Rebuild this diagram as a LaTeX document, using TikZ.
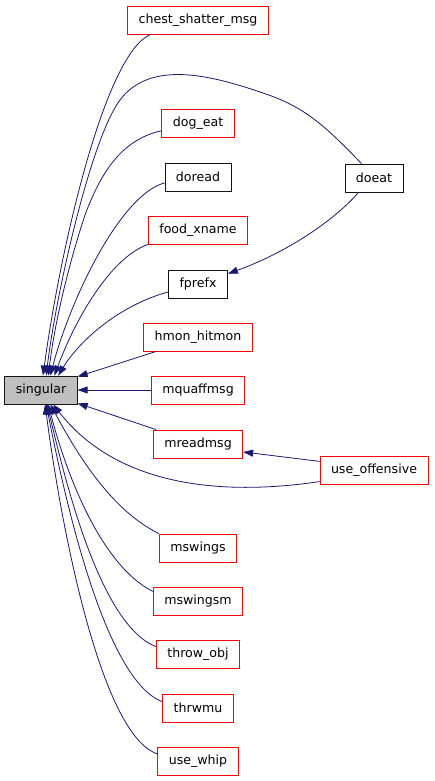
\documentclass[tikz,border=0pt]{standalone}
\usepackage{fontspec}
\setmainfont{DejaVu Sans}
\usetikzlibrary{arrows.meta}
\definecolor{edgenavy}{RGB}{25,25,112}
\definecolor{boxred}{RGB}{255,0,0}
\definecolor{boxgrey}{RGB}{191,191,191}
\definecolor{boxdark}{RGB}{20,20,20}

\begin{document}
\begin{tikzpicture}[x=1pt,y=-1pt,
  fn/.style={draw=boxred,line width=0.8pt,fill=white,font=\fontsize{12.6}{14}\selectfont,inner xsep=11pt,inner ysep=0pt,minimum height=28pt},
  fnref/.style={fn,draw=boxdark},
  fncur/.style={fn,draw=boxdark,fill=boxgrey},
  call/.style={draw=edgenavy,line width=0.8pt,-{Triangle[length=10pt,width=7pt]}}]
\useasboundingbox (0,0) rectangle (435,781);
% the function itself
\node[fncur] (singular) at (41,390) {singular};
% callers
\node[fn] (chest) at (198,20) {chest\_shatter\_msg};
\node[fn] (dogeat) at (198,123) {dog\_eat};
\node[fnref] (doread) at (198,177) {doread};
\node[fn] (foodxname) at (198,230) {food\_xname};
\node[fnref] (fprefx) at (198,284) {fprefx};
\node[fn] (hmon) at (198,337) {hmon\_hitmon};
\node[fn] (mquaff) at (198,390) {mquaffmsg};
\node[fn] (mread) at (198,444) {mreadmsg};
\node[fn] (mswings) at (198,548) {mswings};
\node[fn] (mswingsm) at (198,601) {mswingsm};
\node[fn] (throwobj) at (198,654) {throw\_obj};
\node[fn] (thrwmu) at (198,708) {thrwmu};
\node[fn] (usewhip) at (198,761) {use\_whip};
% second level
\node[fnref] (doeat) at (374,178) {doeat};
\node[fn] (useoff) at (374,470) {use\_offensive};
% edges above singular
\draw[call] (chest.197) .. controls (105,52) and (60,250) .. (singular.82);
\draw[call] (doeat.131) .. controls (320,120) and (300,105) .. (260,92)
  .. controls (210,75) and (150,60) .. (120,100)
  .. controls (90,140) and (55,300) .. (singular.70);
\draw[call] (dogeat.192) .. controls (120,140) and (100,175) .. (85,215)
  .. controls (70,260) and (55,320) .. (singular.63);
\draw[call] (doread.190) .. controls (120,195) and (70,300) .. (singular.57);
\draw[call] (foodxname.south west) .. controls (110,258) and (75,320) .. (singular.47);
\draw[call] (fprefx.195) .. controls (120,305) and (80,340) .. (singular.40);
\draw[call] (doeat.223) .. controls (330,225) and (280,255) .. (fprefx.19);
\draw[call] (hmon.199) -- (singular.20);
% straight across
\draw[call] (mquaff.west) -- (singular.east);
% edges below singular
\draw[call] (mread.161) -- (singular.-20);
\draw[call] (useoff.171) -- (mread.-10);
\draw[call] (useoff.192) .. controls (230,495) and (120,490) .. (singular.-50);
\draw[call] (mswings.north west) .. controls (110,510) and (75,450) .. (singular.-57);
\draw[call] (mswingsm.168) .. controls (100,565) and (65,470) .. (singular.-63);
\draw[call] (throwobj.170) .. controls (100,625) and (65,480) .. (singular.-67);
\draw[call] (thrwmu.170) .. controls (105,680) and (65,500) .. (singular.-70);
\draw[call] (usewhip.170) .. controls (100,735) and (60,520) .. (singular.-74);
\end{tikzpicture}
\end{document}
